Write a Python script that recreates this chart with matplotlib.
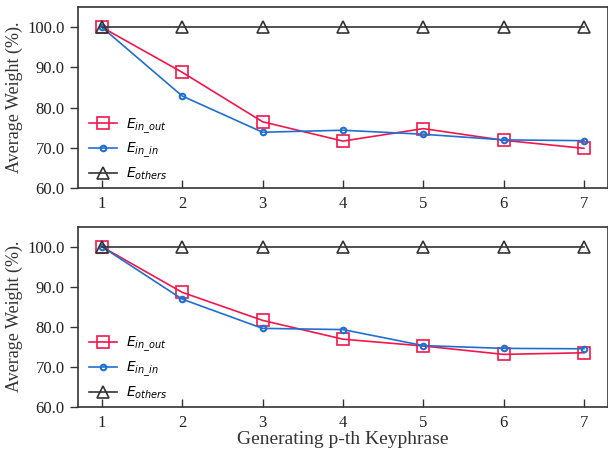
import matplotlib
matplotlib.use("Agg")
import matplotlib.pyplot as plt

# p-th keyphrase being generated
steps = [1, 2, 3, 4, 5, 6, 7]

# upper panel
top_in_out = [100.0, 88.8, 76.5, 71.7, 74.8, 71.9, 69.9]
top_in_in = [100.0, 82.9, 73.9, 74.4, 73.4, 72.0, 71.8]
top_others = [100.0, 100.0, 100.0, 100.0, 100.0, 100.0, 100.0]

# lower panel
bot_in_out = [100.0, 88.6, 81.6, 76.9, 75.2, 73.1, 73.5]
bot_in_in = [100.0, 86.9, 79.6, 79.3, 75.3, 74.6, 74.5]
bot_others = [100.0, 100.0, 100.0, 100.0, 100.0, 100.0, 100.0]

yticks = [60, 70, 80, 90, 100]

RED = "#f2174b"
BLUE = "#1f6fd1"
DARK = "#333333"

plt.rcParams["font.family"] = "Liberation Serif"
plt.rcParams["mathtext.fontset"] = "dejavusans"

fig = plt.figure(figsize=(6.08, 4.49), dpi=100)
ax1 = fig.add_axes([0.128, 0.581, 0.872, 0.403])
ax2 = fig.add_axes([0.128, 0.094, 0.872, 0.401])


def panel(ax, in_out, in_in, others):
    ax.plot(steps, in_out, color=RED, lw=1.2, marker="s", ms=8, mfc="none",
            mec=RED, mew=1.2, label=r"$E_{in\_out}$")
    ax.plot(steps, in_in, color=BLUE, lw=1.2, marker="o", ms=4, mfc="none",
            mec=BLUE, mew=1.5, label=r"$E_{in\_in}$")
    ax.plot(steps, others, color=DARK, lw=1.2, marker="^", ms=8, mfc="none",
            mec=DARK, mew=1.2, label=r"$E_{others}$")
    ax.set_xlim(0.7, 7.3)
    ax.set_ylim(60, 105)
    ax.set_xticks(steps)
    ax.set_yticks(yticks)
    ax.set_yticklabels([f"{v:.1f}" for v in yticks])
    ax.tick_params(axis="x", direction="in", length=6, width=1, colors=DARK,
                   labelsize=12, pad=6, labelcolor="#222222")
    ax.tick_params(axis="y", direction="out", length=5.5, width=1, colors=DARK,
                   labelsize=12, pad=4, labelcolor="#222222")
    for s in ax.spines.values():
        s.set_color(DARK)
        s.set_linewidth(1.2)
    ax.set_ylabel("Average Weight (%).", fontsize=13, color="#333333", labelpad=3)
    ax.legend(loc="lower left", bbox_to_anchor=(0.0, -0.03), frameon=False,
              fontsize=10, handlelength=2.0, handletextpad=0.7,
              labelspacing=0.4, borderpad=0.5, borderaxespad=0.3)


panel(ax1, top_in_out, top_in_in, top_others)
panel(ax2, bot_in_out, bot_in_in, bot_others)
ax2.set_xlabel("Generating p-th Keyphrase", fontsize=14, color="#333333", labelpad=0)

fig.savefig("out.png", dpi=100)
